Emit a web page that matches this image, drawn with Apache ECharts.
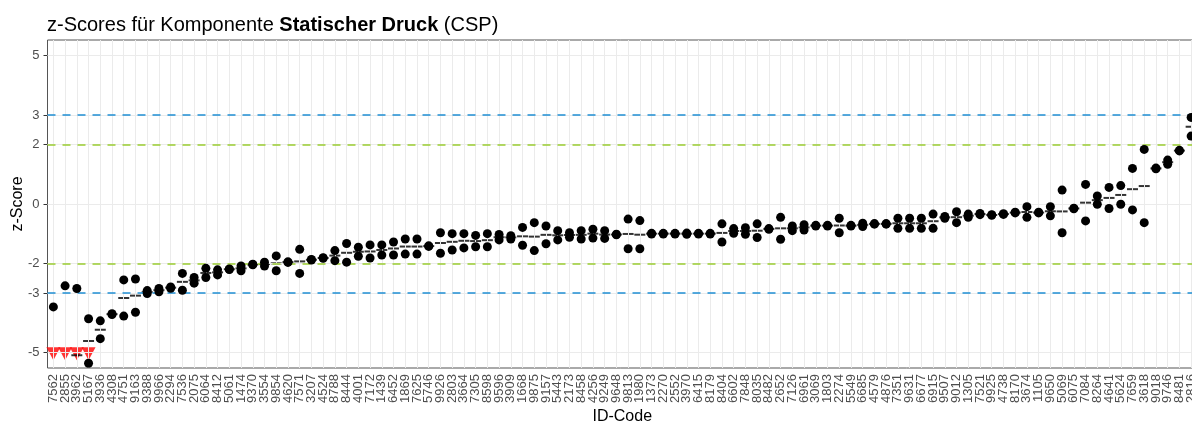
<!DOCTYPE html>
<html>
<head>
<meta charset="utf-8">
<script src="https://cdn.jsdelivr.net/npm/echarts@6/dist/echarts.min.js"></script>
<style>
html, body { margin: 0; padding: 0; background: #fff; }
#chart { width: 1192px; height: 423px; }
</style>
</head>
<body>
<div id="chart"></div>
<script>
var ids = ['7562','2855','3962','5167','3936','4308','4751','9163','9388','9966',
    '2294','7536','2075','6064','8412','5061','1474','9370','3554','9854',
    '4620','7571','3207','4524','8788','8444','4001','7172','1439','6452',
    '1869','7625','5746','9926','2803','3664','7305','8598','9596','3909',
    '1668','9875','9157','5443','2173','8458','4256','9249','9648','9813',
    '1980','1373','2270','2552','3970','6415','8179','8404','6602','7848',
    '8035','8482','2652','7126','6961','3069','1803','2274','5549','6685',
    '4579','4876','7351','9631','6677','6915','9507','9012','1305','7521',
    '9925','4738','8170','3674','1105','9650','5069','6075','7084','8264',
    '4641','5624','7659','3618','9018','9746','8481','2816'];

// erste und zweite Messung je Labor
var zFirst = [-3.47,-2.76,-2.85,-3.87,-3.94,-3.70,-2.56,-2.53,-2.92,-2.85,
    -2.80,-2.34,-2.48,-2.17,-2.22,-2.19,-2.09,-2.03,-1.96,-1.75,
    -1.95,-1.53,-1.87,-1.81,-1.57,-1.33,-1.46,-1.38,-1.38,-1.28,
    -1.18,-1.18,-1.41,-0.97,-1.00,-1.00,-1.06,-1.00,-1.03,-1.07,
    -0.79,-0.63,-0.74,-0.90,-0.97,-0.90,-0.85,-0.90,-1.02,-0.51,
    -0.56,-0.99,-0.99,-0.99,-0.98,-0.99,-0.99,-0.67,-0.83,-0.80,
    -0.67,-0.83,-0.45,-0.74,-0.70,-0.72,-0.72,-0.48,-0.72,-0.65,
    -0.66,-0.66,-0.48,-0.48,-0.48,-0.34,-0.42,-0.26,-0.34,-0.32,
    -0.36,-0.33,-0.28,-0.09,-0.28,-0.09,0.47,-0.14,0.66,0.27,
    0.56,0.62,1.20,1.84,1.19,1.48,1.79,2.92];
var zSecond = [-8.20,-8.60,-7.35,-5.37,-4.54,-3.73,-3.78,-3.65,-3.02,-2.96,
    -2.84,-2.91,-2.67,-2.48,-2.39,-2.21,-2.25,-2.05,-2.09,-2.25,
    -1.97,-2.34,-1.89,-1.83,-1.91,-1.96,-1.76,-1.82,-1.72,-1.72,
    -1.69,-1.69,-1.43,-1.66,-1.55,-1.48,-1.44,-1.44,-1.21,-1.18,
    -1.39,-1.57,-1.34,-1.21,-1.12,-1.18,-1.15,-1.16,-1.04,-1.51,
    -1.51,-1.01,-1.01,-1.01,-1.02,-1.01,-1.01,-1.28,-0.99,-1.02,
    -1.13,-0.85,-1.19,-0.90,-0.88,-0.74,-0.74,-0.97,-0.74,-0.76,
    -0.68,-0.68,-0.82,-0.82,-0.82,-0.82,-0.48,-0.63,-0.45,-0.36,
    -0.38,-0.35,-0.30,-0.45,-0.30,-0.40,-0.97,-0.16,-0.57,-0.01,
    -0.15,-0.01,-0.20,-0.63,1.21,1.34,1.81,2.29];

var yTicks = [-5, -3, -2, 0, 2, 3, 5];
var yMin = -5.53, yMax = 5.53;
var lowLimit = -5;

var font = "'Liberation Sans', Arial, sans-serif";
var blue = '#1f8fd4', green = '#9acd32';

var points = [], means = [], flags = [];
ids.forEach(function (id, i) {
    var a = zFirst[i], b = zSecond[i], m = (a + b) / 2;
    [a, b].forEach(function (v) {
        if (v >= yMin && v <= yMax) points.push([i, v]);
    });
    if (m >= yMin && m <= yMax) means.push([i, m]);
    if (Math.min(a, b) < lowLimit) flags.push([i, lowLimit]);
});

var chart = echarts.init(document.getElementById('chart'));
chart.setOption({
    animation: false,
    textStyle: { fontFamily: font },
    title: {
        text: '{n|z-Scores für Komponente }{b|Statischer Druck}{n| (CSP)}',
        left: 47,
        top: 15,
        padding: 0,
        textStyle: {
            fontWeight: 'normal',
            rich: {
                n: { fontSize: 20, color: '#000', fontWeight: 'normal', fontFamily: font },
                b: { fontSize: 20, color: '#000', fontWeight: 'bold', fontFamily: font }
            }
        }
    },
    grid: {
        left: 47.5,
        top: 40,
        width: 1149.5,
        height: 328,
        outerBoundsMode: 'none',
        containLabel: false,
        show: true,
        backgroundColor: '#fff',
        borderColor: '#555',
        borderWidth: 1
    },
    xAxis: {
        type: 'category',
        data: ids,
        name: 'ID-Code',
        nameLocation: 'middle',
        nameGap: 41,
        nameMoveOverlap: false,
        nameTextStyle: { fontSize: 16, color: '#000' },
        axisLine: { show: false },
        axisTick: { show: true, alignWithLabel: true, interval: 0, length: 4, lineStyle: { color: '#333' } },
        axisLabel: { interval: 0, rotate: 90, fontSize: 13, color: '#4d4d4d', margin: 6 },
        splitLine: { show: false }
    },
    yAxis: {
        type: 'value',
        min: yMin,
        max: yMax,
        name: 'z-Score',
        nameLocation: 'middle',
        nameGap: 22,
        nameMoveOverlap: false,
        nameTextStyle: { fontSize: 16, color: '#000' },
        axisLine: { show: false },
        axisTick: { show: true, length: 4, customValues: yTicks, lineStyle: { color: '#333' } },
        axisLabel: { customValues: yTicks, fontSize: 13, color: '#4d4d4d', margin: 8 },
        splitLine: { show: false }
    },
    series: [
        {
            // Gitterlinien
            type: 'line',
            data: [],
            z: 1,
            silent: true,
            markLine: {
                silent: true,
                symbol: ['none', 'none'],
                label: { show: false },
                lineStyle: { color: '#ebebeb', width: 1, type: 'solid' },
                data: ids.map(function (id) { return { xAxis: id }; })
                    .concat(yTicks.map(function (v) { return { yAxis: v }; }))
            }
        },
        {
            // Warn- und Eingriffsgrenzen
            type: 'line',
            data: [],
            z: 2,
            silent: true,
            markLine: {
                silent: true,
                symbol: ['none', 'none'],
                label: { show: false },
                lineStyle: { width: 1.6, type: [8, 7] },
                data: [
                    { yAxis: 3, lineStyle: { color: blue } },
                    { yAxis: -3, lineStyle: { color: blue } },
                    { yAxis: 2, lineStyle: { color: green } },
                    { yAxis: -2, lineStyle: { color: green } }
                ]
            }
        },
        {
            type: 'scatter',
            data: flags,
            z: 3,
            silent: true,
            symbol: 'triangle',
            symbolRotate: 180,
            symbolSize: [14, 13],
            symbolOffset: [0, 1.5],
            itemStyle: { color: '#ff0000' }
        },
        {
            type: 'scatter',
            data: means,
            z: 4,
            silent: true,
            symbol: 'rect',
            symbolSize: [11, 2],
            itemStyle: { color: '#000' }
        },
        {
            type: 'scatter',
            data: points,
            z: 5,
            silent: true,
            symbolSize: 9,
            itemStyle: { color: '#000', opacity: 1 }
        }
    ]
});
</script>
</body>
</html>
